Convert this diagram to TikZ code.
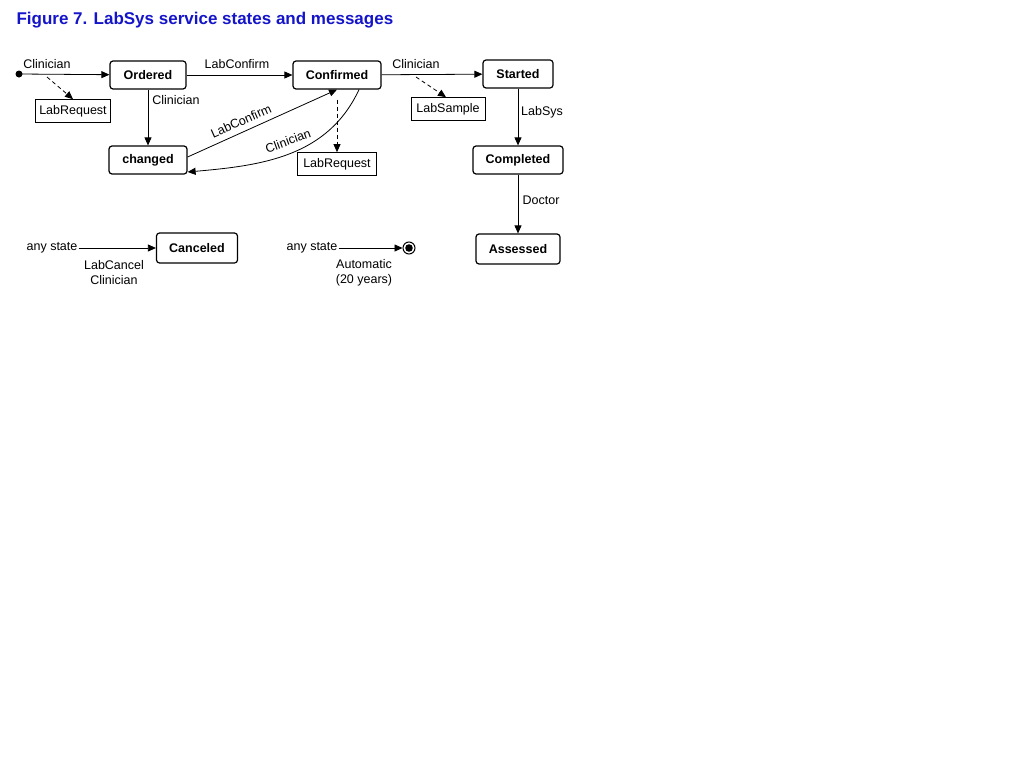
\documentclass[tikz,border=0pt]{standalone}
\usepackage{fontspec}
\setmainfont{Liberation Sans}
\usetikzlibrary{arrows.meta}
\definecolor{titleblue}{RGB}{20,20,200}
\newcommand{\txtsize}{\fontsize{12.5}{15}\selectfont}
\tikzset{
  state/.style={draw,rounded corners=3pt,line width=1.2pt,font=\txtsize\bfseries,minimum height=28pt,inner sep=0pt},
  msg/.style={draw,line width=0.7pt,minimum height=23pt,minimum width=74pt,inner sep=0pt},
  lbl/.style={inner sep=1pt},
  trans/.style={-{Triangle[length=8pt,width=7pt]},line width=0.8pt},
  sends/.style={trans,dashed,dash pattern=on 4pt off 3pt}
}
\begin{document}
\begin{tikzpicture}[x=1pt,y=-1pt,font=\txtsize]
\useasboundingbox (0,0) rectangle (1024,768);
\node[anchor=west,text=titleblue,font=\fontsize{17}{20}\selectfont\bfseries] (title) at (13,20) {Figure 7. LabSys service states and messages};
% states
\node[state,minimum width=76pt] (ordered) at (148,75) {Ordered};
\node[state,minimum width=88pt] (confirmed) at (337,75) {Confirmed};
\node[state,minimum width=70pt] (started) at (518,74) {Started};
\node[state,minimum width=78pt] (changed) at (148,160) {changed};
\node[state,minimum width=90pt] (completed) at (518,160) {Completed};
\node[state,minimum width=84pt,minimum height=30pt] (assessed) at (518,249) {Assessed};
\node[state,minimum width=81pt,minimum height=30pt] (canceled) at (197,248) {Canceled};
% messages
\node[msg,minimum width=75pt] (req1) at (73,111) {LabRequest};
\node[msg] (sample) at (448,109) {LabSample};
\node[msg,minimum width=79pt] (req2) at (337,164) {LabRequest};
% start and end
\fill (19,74) circle (3.5pt) coordinate (init);
\node[draw,circle,line width=1pt,minimum size=12pt,inner sep=0pt] (final) at (409,248) {};
\fill (final) circle (3.8pt);
\coordinate (c1) at (47,77);
\coordinate (c2) at (416,77);
% transitions
\draw[trans] (init) -- (ordered);
\draw[trans] (ordered) -- (confirmed);
\draw[trans] (confirmed) -- (started);
\draw[trans] (ordered) -- (changed);
\draw[trans] (started) -- (completed);
\draw[trans] (completed) -- (assessed);
\draw[trans] (changed.east) ++(0,-3) -- (confirmed.south);
\draw[trans] ([xshift=22pt]confirmed.south) to[out=-115,in=5] ([yshift=-12pt]changed.east);
\draw[sends] (c1) -- (req1.north);
\draw[sends] (c2) -- ([xshift=-2pt]sample.north);
\draw[sends] (confirmed.south) ++(0,10) -- (req2.north);
% labels
\node[lbl] (l1) at (47,64) {Clinician};
\node[lbl] (l2) at (237,64) {LabConfirm};
\node[lbl] (l3) at (416,64) {Clinician};
\node[lbl] (l4) at (176,100) {Clinician};
\node[lbl] (l5) at (542,112) {LabSys};
\node[lbl] (l6) at (541,200) {Doctor};
\node[lbl,rotate=24] (l7) at (241,121) {LabConfirm};
\node[lbl,rotate=20] (l8) at (288,141) {Clinician};
% any state
\node[lbl] (any1) at (52,248) {any state};
\node[lbl] (any2) at (312,248) {any state};
\draw[trans] (any1) -- (canceled);
\draw[trans] (any2) -- (final);
\node[lbl,align=center] (l9) at (114,273) {LabCancel\\Clinician};
\node[lbl,align=center] (l10) at (364,273) {Automatic\\(20 years)};
\end{tikzpicture}
\end{document}
